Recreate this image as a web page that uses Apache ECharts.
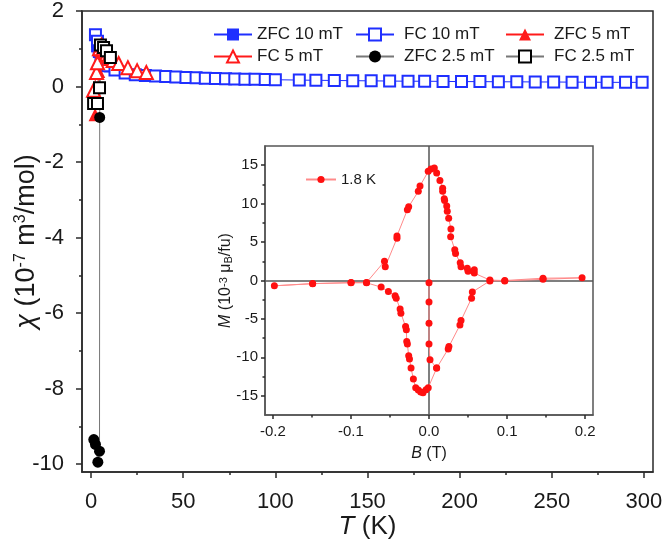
<!DOCTYPE html>
<html><head><meta charset="utf-8">
<script src="https://cdn.jsdelivr.net/npm/echarts@6/dist/echarts.min.js"></script>
<style>html,body{margin:0;padding:0;background:#fff}#c{width:666px;height:551px}</style>
</head><body><div id="c"></div>
<script>
// ---------- Main panel data: chi (1e-7 m3/mol) vs T (K) ----------
const zfc10T = [3, 4, 5, 6, 8, 10, 13, 18.5, 24, 29.5, 35];
const zfc10V = [1.05, 0.9, 0.8, 0.72, 0.6, 0.52, 0.44, 0.36, 0.31, 0.29, 0.28];

const fc10T = [2.4, 3.5, 4.5, 5.5, 7, 9, 13, 18.5, 24, 29.5, 35, 40.5, 46, 51.5, 57, 62, 67.5, 73, 78, 83.5, 89, 94.5, 100,
  113, 122, 132, 142, 152, 162, 172, 181, 191, 201, 211, 221, 231, 241, 251, 261, 271, 280, 290, 299];
const fc10V = [1.37, 1.2, 0.95, 0.8, 0.66, 0.55, 0.44, 0.36, 0.31, 0.29, 0.28, 0.265, 0.25, 0.24, 0.23, 0.22, 0.21, 0.205, 0.2, 0.195, 0.19, 0.185, 0.18,
  0.17, 0.165, 0.16, 0.155, 0.15, 0.145, 0.14, 0.14, 0.135, 0.13, 0.13, 0.125, 0.125, 0.12, 0.12, 0.115, 0.115, 0.11, 0.11, 0.11];

const zfc5T = [2.2, 3.2, 4.2, 5.2, 6, 7, 8, 10, 12];
const zfc5V = [-0.75, -0.35, 0.4, 0.95, 1.0, 0.93, 0.86, 0.76, 0.69];

const fc5T = [1.4, 3, 3.5, 4.6, 5.7, 6.5, 7.5, 8.5, 9.5, 10.5, 12, 15, 20, 25, 30];
const fc5V = [-0.1, 0.37, 0.63, 1.0, 1.1, 1.0, 0.92, 0.85, 0.8, 0.74, 0.69, 0.61, 0.5, 0.42, 0.37];

const zfc25T = [1.5, 2.4, 3.7, 4.6, 4.7, 5.2, 6.8, 9];
const zfc25V = [-9.35, -9.48, -9.95, -9.66, -0.82, 1.08, 1.0, 0.87];

const fc25T = [1.4, 3.5, 4.6, 5.1, 6.8, 8.4, 10.5];
const fc25V = [-0.45, -0.45, -0.03, 1.1, 1.03, 0.95, 0.77];

const xTicks = [0, 50, 100, 150, 200, 250, 300];
const xMinor = [25, 75, 125, 175, 225, 275];
const yTicks = [-10, -8, -6, -4, -2, 0, 2];
const yMinor = [-9, -7, -5, -3, -1, 1];

// ---------- Inset data: M (1e-3 muB/fu) vs B (T) at 1.8 K ----------
const insetB = [0, 0, 0, 0, 0.0013, 0.0098,
  0.0246, 0.0255, 0.0396, 0.041, 0.0545, 0.0555, 0.078, 0.097, 0.146, 0.196,
  0.146, 0.097, 0.078, 0.058, 0.058, 0.050, 0.049, 0.041, 0.040, 0.034, 0.033, 0.0277, 0.0281, 0.0252, 0.0234, 0.0227, 0.0200, 0.0195, 0.0175, 0.0175, 0.014, 0.0098, 0.0068, 0.0026, -0.001,
  -0.0115, -0.0137, -0.026, -0.0277, -0.041, -0.041, -0.056, -0.057, -0.080, -0.0996, -0.149, -0.198,
  -0.149, -0.100, -0.080, -0.0613, -0.052, -0.0434, -0.042, -0.037, -0.036, -0.030, -0.029, -0.0285, -0.0277, -0.026, -0.025, -0.023, -0.020, -0.017, -0.0137, -0.0106, -0.0077, -0.0038, -0.001, 0.0098];
const insetM = [-0.3, -2.8, -5.55, -8.25, -10.3, -11.4,
  -8.9, -8.6, -5.8, -5.2, -2.3, -1.5, -0.05, -0.05, 0.15, 0.35,
  0.3, 0.0, 0.05, 0.96, 1.4, 1.2, 1.6, 1.8, 2.3, 3.5, 4.0, 5.7, 6.7, 8.1, 9.0, 9.7, 10.4, 10.65, 11.6, 12.0, 13.0, 14.0, 14.65, 14.5, 14.2,
  12.3, 11.6, 9.6, 9.2, 5.8, 5.5, 1.8, 2.5, -0.26, -0.26, -0.42, -0.69,
  -0.4, -0.3, -0.3, -0.86, -1.43, -2.0, -2.3, -3.7, -4.25, -6.0, -6.4, -7.95, -8.25, -9.8, -10.2, -11.4, -12.8, -13.95, -14.25, -14.5, -14.6, -14.2, -13.95, -11.4];

const bTicks = [-0.2, -0.1, 0, 0.1, 0.2];
const bMinor = [-0.15, -0.05, 0.05, 0.15];
const mTicks = [-15, -10, -5, 0, 5, 10, 15];
const mMinor = [-12.5, -7.5, -2.5, 2.5, 7.5, 12.5];

// ---------- styling ----------
const FONT = 'Liberation Sans, Arial, sans-serif';
const TXT = '#1a1a1a';
const AX = '#2a2a2a';
const BLUE = '#1f2fff';
const RED = '#ff1a1a';

function pts(T, V) { return T.map((t, i) => [t, V[i]]); }

function mainSeries(name, T, V, color, lineColor, symbol, size) {
  return {
    name, type: 'line', xAxisIndex: 0, yAxisIndex: 0,
    data: pts(T, V), symbol, symbolSize: size,
    lineStyle: { color: lineColor, width: 1 },
    itemStyle: { color, borderWidth: 1.5 },
    emphasis: { disabled: true }
  };
}

function valAxis(gi, min, max, pos, ticks, opts) {
  return Object.assign({
    type: 'value', gridIndex: gi, min, max, position: pos,
    nameMoveOverlap: false,
    axisLine: { show: true, onZero: false, lineStyle: { color: AX, width: 1.5 } },
    axisTick: { show: true, customValues: ticks, length: 6, lineStyle: { color: AX, width: 1.5 } },
    axisLabel: { show: true, customValues: ticks, color: TXT, fontFamily: FONT },
    splitLine: { show: false }
  }, opts);
}
function minorAxis(gi, min, max, pos, ticks, len) {
  return {
    type: 'value', gridIndex: gi, min, max, position: pos,
    axisLine: { show: false, onZero: false },
    axisTick: { show: true, customValues: ticks, length: len, lineStyle: { color: AX, width: 1.5 } },
    axisLabel: { show: false },
    splitLine: { show: false }
  };
}

const xMain = valAxis(0, -4.9, 304.9, 'bottom', xTicks, {
  name: '{i|T} (K)', nameLocation: 'middle', nameGap: 42,
  nameTextStyle: { fontSize: 26, color: TXT, fontFamily: FONT, rich: { i: { fontStyle: 'italic', fontSize: 26, fontFamily: FONT, color: TXT } } }
});
xMain.axisLabel.fontSize = 22; xMain.axisLabel.margin = 19;

const yMain = valAxis(0, -10.21, 2, 'left', yTicks, {
  name: '{i|χ} (10{sup|-7} m{sup|3}/mol)', nameLocation: 'middle', nameGap: 42,
  nameTextStyle: { fontSize: 27, color: TXT, fontFamily: FONT,
    rich: { i: { fontStyle: 'italic', fontSize: 27, fontFamily: FONT, color: TXT },
            sup: { fontSize: 16, verticalAlign: 'top', fontFamily: FONT, color: TXT } } }
});
yMain.axisLabel.fontSize = 22; yMain.axisLabel.margin = 18;

const xIn = valAxis(1, -0.21, 0.21, 'bottom', bTicks, {
  name: '{i|B} (T)', nameLocation: 'middle', nameGap: 31,
  nameTextStyle: { fontSize: 16, color: TXT, fontFamily: FONT, rich: { i: { fontStyle: 'italic', fontSize: 16, fontFamily: FONT, color: TXT } } }
});
xIn.axisTick.length = 4; xIn.axisLabel.fontSize = 15; xIn.axisLabel.margin = 9;
xIn.axisLabel.formatter = v => v.toFixed(1);
xIn.axisLine.lineStyle = { color: '#555', width: 1.5 };

const yIn = valAxis(1, -17.5, 17.5, 'left', mTicks, {
  name: '{i|M} (10{sup|-3} μ{sub|B}/fu)', nameLocation: 'middle', nameGap: 31,
  nameTextStyle: { fontSize: 16, color: TXT, fontFamily: FONT,
    rich: { i: { fontStyle: 'italic', fontSize: 16, fontFamily: FONT, color: TXT },
            sup: { fontSize: 11, verticalAlign: 'top', fontFamily: FONT, color: TXT },
            sub: { fontSize: 11, verticalAlign: 'bottom', fontFamily: FONT, color: TXT } } }
});
yIn.axisTick.length = 4; yIn.axisLabel.fontSize = 15; yIn.axisLabel.margin = 7;
yIn.axisLine.lineStyle = { color: '#555', width: 1.5 };

const legendText = { fontSize: 17, color: TXT, fontFamily: FONT };

const option = {
  animation: false,
  backgroundColor: '#fff',
  grid: [
    { left: 82, top: 11, width: 571, height: 461, show: true, borderColor: AX, borderWidth: 1.5, backgroundColor: 'transparent', containLabel: false, outerBoundsMode: 'none' },
    { left: 265, top: 146, width: 328, height: 269, show: true, borderColor: '#555', borderWidth: 1.5, backgroundColor: '#fff', containLabel: false, outerBoundsMode: 'none' }
  ],
  legend: [
    { data: ['ZFC 10 mT', 'FC 5 mT'], orient: 'vertical', left: 208, top: 21, itemWidth: 38, itemHeight: 15, itemGap: 5, textStyle: legendText, selectedMode: false },
    { data: ['FC 10 mT', 'ZFC 2.5 mT'], orient: 'vertical', left: 350, top: 21, itemWidth: 38, itemHeight: 15, itemGap: 5, textStyle: Object.assign({ padding: [0, 0, 0, 5] }, legendText), selectedMode: false },
    { data: ['ZFC 5 mT', 'FC 2.5 mT'], orient: 'vertical', left: 500, top: 21, itemWidth: 38, itemHeight: 15, itemGap: 5, textStyle: Object.assign({ padding: [0, 0, 0, 5] }, legendText), selectedMode: false },
    { data: ['1.8 K'], left: 300, top: 167, itemWidth: 30, itemHeight: 9, textStyle: { fontSize: 15, color: TXT, fontFamily: FONT }, selectedMode: false }
  ],
  xAxis: [
    xMain,
    minorAxis(0, -4.9, 304.9, 'bottom', xMinor, 3),
    xIn,
    minorAxis(1, -0.21, 0.21, 'bottom', bMinor, 2.5)
  ],
  yAxis: [
    yMain,
    minorAxis(0, -10.21, 2, 'left', yMinor, 3),
    yIn,
    minorAxis(1, -17.5, 17.5, 'left', mMinor, 2.5)
  ],
  series: [
    mainSeries('ZFC 10 mT', zfc10T, zfc10V, BLUE, BLUE, 'rect', 11),
    mainSeries('FC 10 mT', fc10T, fc10V, BLUE, BLUE, 'emptyRect', 11),
    mainSeries('ZFC 5 mT', zfc5T, zfc5V, RED, RED, 'triangle', 13),
    mainSeries('FC 5 mT', fc5T, fc5V, RED, RED, 'emptyTriangle', 13),
    mainSeries('ZFC 2.5 mT', zfc25T, zfc25V, '#000', '#777', 'circle', 11),
    mainSeries('FC 2.5 mT', fc25T, fc25V, '#000', '#777', 'emptyRect', 11),
    {
      name: '1.8 K', type: 'line', xAxisIndex: 2, yAxisIndex: 2,
      data: pts(insetB, insetM), symbol: 'circle', symbolSize: 7,
      lineStyle: { color: '#ff8a8a', width: 1 },
      itemStyle: { color: '#ff1010' },
      emphasis: { disabled: true },
      markLine: {
        silent: true, symbol: 'none', label: { show: false },
        lineStyle: { color: '#555', width: 1.5, type: 'solid' },
        data: [{ xAxis: 0 }, { yAxis: 0 }],
        z: 1
      }
    }
  ]
};

const chart = echarts.init(document.getElementById('c'));
chart.setOption(option);
</script>
</body></html>
